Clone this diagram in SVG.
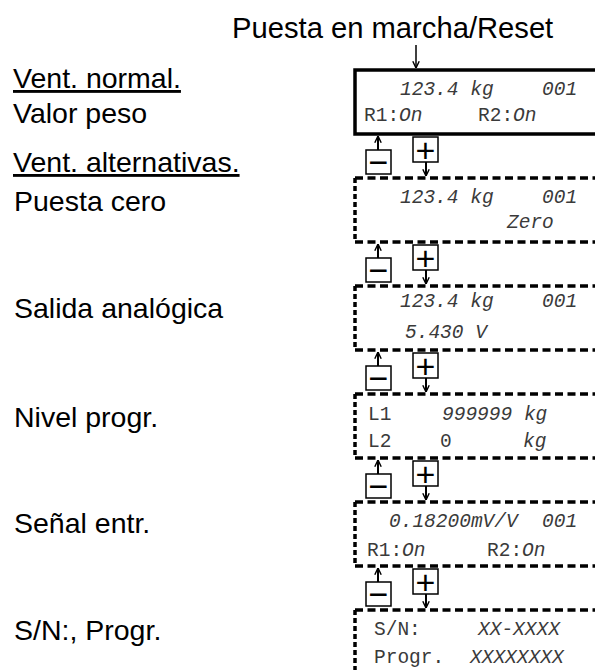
<svg xmlns="http://www.w3.org/2000/svg" width="595" height="670" viewBox="0 0 595 670">
<defs>
<style>
.lbl{font-family:"Liberation Sans",Arial,sans-serif;font-size:28.5px;fill:#000}
.ttl{font-family:"Liberation Sans",Arial,sans-serif;font-size:29.2px;fill:#000}
.mono{font-family:"Liberation Mono","Courier New",monospace;font-size:19.5px;fill:#3a3a3a}
.it{font-style:italic}
.solid{fill:#fff;stroke:#000;stroke-width:3.5}
.dash{fill:none;stroke:#000;stroke-width:3.5;stroke-dasharray:8 4.5}
.dashv{fill:none;stroke:#000;stroke-width:3.5;stroke-dasharray:5 3}
.btn{fill:#fff;stroke:#000;stroke-width:1.5}
.sym{font-family:"Liberation Sans",Arial,sans-serif;font-size:34px;fill:#000;text-anchor:middle}
.conn{fill:none;stroke:#000;stroke-width:2;marker-end:url(#ah)}
.conn1{fill:none;stroke:#000;stroke-width:1.5;marker-end:url(#ah)}
</style>
<marker id="ah" viewBox="0 0 10 10" refX="9.5" refY="5" markerWidth="8" markerHeight="10" markerUnits="userSpaceOnUse" orient="auto">
<path d="M1,1 L9.5,5 L1,9" fill="none" stroke="#000" stroke-width="1.8"/>
</marker>
</defs>
<rect width="595" height="670" fill="#fff"/>

<g id="title"><text class="ttl" x="232" y="38">Puesta en marcha/Reset</text></g>

<g id="labels">
<text class="lbl" x="13" y="88" text-decoration="underline">Vent. normal.</text>
<text class="lbl" x="13" y="123">Valor peso</text>
<text class="lbl" x="13" y="172" text-decoration="underline">Vent. alternativas.</text>
<text class="lbl" x="14" y="211">Puesta cero</text>
<text class="lbl" x="14" y="318">Salida analógica</text>
<text class="lbl" x="14" y="427">Nivel progr.</text>
<text class="lbl" x="14" y="533">Señal entr.</text>
<text class="lbl" x="14" y="640">S/N:, Progr.</text>
</g>

<g id="box1">
<rect class="solid" x="355" y="70" width="260" height="64"/>
<text class="mono it" x="400" y="95">123.4 kg</text>
<text class="mono it" x="542" y="95">001</text>
<text class="mono" x="364" y="121">R1:<tspan class="it">On</tspan></text>
<text class="mono" x="478" y="121">R2:<tspan class="it">On</tspan></text>
</g>

<g id="box2">
<line class="dash" x1="355" y1="178" x2="600" y2="178"/>
<line class="dash" x1="355" y1="242" x2="600" y2="242"/>
<line class="dashv" x1="355" y1="178" x2="355" y2="242"/>
<text class="mono it" x="400" y="203">123.4 kg</text>
<text class="mono it" x="542" y="203">001</text>
<text class="mono it" x="507" y="228">Zero</text>
</g>

<g id="box3">
<line class="dash" x1="355" y1="286" x2="600" y2="286"/>
<line class="dash" x1="355" y1="350" x2="600" y2="350"/>
<line class="dashv" x1="355" y1="286" x2="355" y2="350"/>
<text class="mono it" x="400" y="307">123.4 kg</text>
<text class="mono it" x="542" y="307">001</text>
<text class="mono it" x="405" y="338">5.430 V</text>
</g>

<g id="box4">
<line class="dash" x1="355" y1="394" x2="600" y2="394"/>
<line class="dash" x1="355" y1="458" x2="600" y2="458"/>
<line class="dashv" x1="355" y1="394" x2="355" y2="458"/>
<text class="mono" x="368" y="420">L1</text>
<text class="mono it" x="442" y="420">999999 kg</text>
<text class="mono" x="368" y="447">L2</text>
<text class="mono" x="440" y="447">0</text>
<text class="mono it" x="523" y="447">kg</text>
</g>

<g id="box5">
<line class="dash" x1="355" y1="502" x2="600" y2="502"/>
<line class="dash" x1="355" y1="566" x2="600" y2="566"/>
<line class="dashv" x1="355" y1="502" x2="355" y2="566"/>
<text class="mono it" x="389" y="527">0.18200mV/V</text>
<text class="mono it" x="542" y="527">001</text>
<text class="mono" x="367" y="556">R1:<tspan class="it">On</tspan></text>
<text class="mono" x="487" y="556">R2:<tspan class="it">On</tspan></text>
</g>

<g id="box6">
<line class="dash" x1="355" y1="610" x2="600" y2="610"/>
<line class="dashv" x1="355" y1="610" x2="355" y2="680"/>
<text class="mono" x="374" y="635">S/N:</text>
<text class="mono it" x="478" y="635">XX-XXXX</text>
<text class="mono" x="374" y="663">Progr.</text>
<text class="mono it" x="470" y="663">XXXXXXXX</text>
</g>

<g id="buttons">
<g id="btn1"><rect class="btn" x="366" y="150" width="25" height="24"/><text class="sym" x="378.5" y="174">−</text><rect class="btn" x="413" y="137" width="25" height="25"/><text class="sym" x="425.5" y="161.5">+</text></g>
<g id="btn2"><rect class="btn" x="366" y="258" width="25" height="24"/><text class="sym" x="378.5" y="282">−</text><rect class="btn" x="413" y="245" width="25" height="25"/><text class="sym" x="425.5" y="269.5">+</text></g>
<g id="btn3"><rect class="btn" x="366" y="366" width="25" height="24"/><text class="sym" x="378.5" y="390">−</text><rect class="btn" x="413" y="353" width="25" height="25"/><text class="sym" x="425.5" y="377.5">+</text></g>
<g id="btn4"><rect class="btn" x="366" y="474" width="25" height="24"/><text class="sym" x="378.5" y="498">−</text><rect class="btn" x="413" y="461" width="25" height="25"/><text class="sym" x="425.5" y="485.5">+</text></g>
<g id="btn5"><rect class="btn" x="366" y="582" width="25" height="24"/><text class="sym" x="378.5" y="606">−</text><rect class="btn" x="413" y="569" width="25" height="25"/><text class="sym" x="425.5" y="593.5">+</text></g>
</g>

<g id="connectors">
<line class="conn1" x1="416" y1="45" x2="416" y2="68"/>
<line class="conn" x1="378" y1="150" x2="378" y2="136"/>
<line class="conn" x1="426" y1="162" x2="426" y2="176"/>
<line class="conn" x1="378" y1="258" x2="378" y2="244"/>
<line class="conn" x1="426" y1="270" x2="426" y2="284"/>
<line class="conn" x1="378" y1="366" x2="378" y2="352"/>
<line class="conn" x1="426" y1="378" x2="426" y2="392"/>
<line class="conn" x1="378" y1="474" x2="378" y2="460"/>
<line class="conn" x1="426" y1="486" x2="426" y2="500"/>
<line class="conn" x1="378" y1="582" x2="378" y2="568"/>
<line class="conn" x1="426" y1="594" x2="426" y2="608"/>
</g>
</svg>
